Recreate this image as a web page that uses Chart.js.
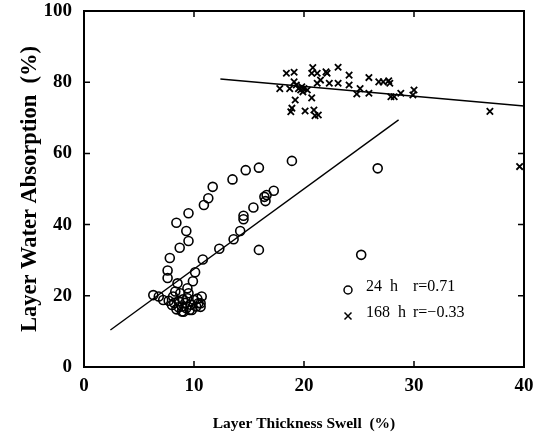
<!DOCTYPE html>
<html>
<head>
<meta charset="utf-8">
<script src="https://cdn.jsdelivr.net/npm/chart.js@4.4.1/dist/chart.umd.min.js"></script>
<style>
  html, body { margin: 0; padding: 0; background: #fff; }
  #wrap { width: 536px; height: 438px; }
</style>
</head>
<body>
<div id="wrap"><canvas id="chart" width="536" height="438"></canvas></div>
<script>
// 24 h samples (thickness swell %, water absorption %)
const swell24 = [14.7, 15.9, 18.9, 13.5, 11.7, 11.3, 10.9, 17.25, 16.6, 16.4, 16.5, 15.4, 26.7,
  9.5, 8.4, 9.3, 9.5, 8.7, 7.8, 7.6, 7.6, 8.5, 10.1, 9.9, 10.8, 12.3, 13.6, 14.2, 14.5, 14.5,
  15.9, 25.2, 9.4, 6.3, 6.8, 7.2, 10.7, 10.6, 9.8, 9.05, 8.4, 8.0, 8.75, 9.5, 8.1, 10.0, 10.4,
  10.6, 9.6, 8.6, 9.2, 8.9, 9.4, 7.7, 8.3, 8.9, 9.3, 10.2, 9.0, 8.2, 9.7, 10.3, 8.6];
const absorb24 = [55.3, 56.0, 57.9, 52.7, 50.6, 47.4, 45.5, 49.5, 48.3, 47.8, 46.6, 44.8, 55.8,
  43.2, 40.5, 38.2, 35.4, 33.5, 30.6, 27.1, 25.0, 23.5, 26.6, 24.1, 30.2, 33.2, 35.9, 38.2, 41.5, 42.5,
  32.9, 31.5, 22.1, 20.2, 19.8, 18.8, 19.8, 17.9, 16.0, 15.5, 16.2, 17.4, 20.7, 20.7, 19.8, 18.8, 17.9,
  16.9, 16.0, 18.5, 18.0, 17.0, 19.3, 18.6, 21.2, 15.6, 16.5, 17.0, 19.0, 18.0, 17.5, 19.2, 16.8];

// 168 h samples
const swell168 = [18.4, 19.1, 19.1, 17.8, 18.7, 20.8, 20.7, 21.2, 22.0, 22.1, 23.1, 24.1, 24.1,
  23.1, 22.3, 21.5, 21.2, 20.0, 19.7, 20.3, 20.7, 19.2, 18.9, 18.8, 20.1, 20.9, 21.0, 21.3,
  25.9, 26.8, 27.2, 27.7, 27.8, 25.1, 24.8, 25.9, 27.9, 28.2, 28.8, 30.0, 29.9, 36.9, 39.6,
  19.5, 19.8, 19.9, 19.3];
const absorb168 = [82.5, 82.8, 80.1, 78.2, 78.2, 84.1, 82.5, 82.5, 82.9, 82.5, 84.2, 82.0, 79.2,
  79.7, 79.7, 80.6, 79.7, 78.2, 77.8, 77.8, 75.6, 75.0, 72.7, 71.7, 71.9, 72.2, 70.6, 70.8,
  81.3, 80.1, 80.1, 80.4, 79.7, 78.2, 76.7, 76.9, 75.9, 75.9, 76.9, 77.8, 76.4, 71.8, 56.3,
  78.2, 78.7, 77.3, 79.2];

// regression lines (end points)
const fit24X = [2.4, 28.6];
const fit24Y = [10.4, 69.4];
const fit168X = [12.4, 40.0];
const fit168Y = [80.9, 73.3];

const xTicks = [0, 10, 20, 30, 40];
const yTicks = [0, 20, 40, 60, 80, 100];

const legendRows = [
  { style: 'circle', label: '24  h', r: 'r=0.71' },
  { style: 'crossRot', label: '168  h', r: 'r=\u22120.33' }
];

const toPts = (xs, ys) => xs.map((x, i) => ({ x: x, y: ys[i] }));
const serif = '"Liberation Serif", "Times New Roman", serif';

const framePlugin = {
  id: 'frame',
  afterDraw(chart) {
    const ctx = chart.ctx;
    const a = chart.chartArea;
    const xs = chart.scales.x, ys = chart.scales.y;
    ctx.save();
    ctx.strokeStyle = '#000';
    ctx.lineWidth = 2;
    ctx.strokeRect(a.left, a.top, a.right - a.left, a.bottom - a.top);
    ctx.lineWidth = 1.5;
    ctx.beginPath();
    xTicks.slice(1, -1).forEach(v => {
      const px = xs.getPixelForValue(v);
      ctx.moveTo(px, a.bottom); ctx.lineTo(px, a.bottom - 6);
      ctx.moveTo(px, a.top); ctx.lineTo(px, a.top + 6);
    });
    yTicks.slice(1, -1).forEach(v => {
      const py = ys.getPixelForValue(v);
      ctx.moveTo(a.left, py); ctx.lineTo(a.left + 6, py);
      ctx.moveTo(a.right, py); ctx.lineTo(a.right - 6, py);
    });
    ctx.stroke();

    // legend inside the plot
    const lx = a.left + 264, ly = a.top + 279;
    ctx.font = '16px ' + serif;
    ctx.fillStyle = '#000';
    ctx.textBaseline = 'middle';
    legendRows.forEach((row, i) => {
      const y = ly + i * 26;
      ctx.lineWidth = 1.5;
      ctx.beginPath();
      if (row.style === 'circle') {
        ctx.arc(lx, y, 4, 0, Math.PI * 2);
      } else {
        ctx.moveTo(lx - 3.5, y - 3.5); ctx.lineTo(lx + 3.5, y + 3.5);
        ctx.moveTo(lx + 3.5, y - 3.5); ctx.lineTo(lx - 3.5, y + 3.5);
      }
      ctx.stroke();
      ctx.fillText(row.label, lx + 18, y - 3);
      ctx.fillText(row.r, lx + 65, y - 3);
    });
    ctx.restore();
  }
};

new Chart(document.getElementById('chart'), {
  type: 'scatter',
  data: {
    datasets: [
      {
        label: '24 h',
        data: toPts(swell24, absorb24),
        pointStyle: 'circle',
        pointRadius: 4.5,
        borderColor: '#000',
        backgroundColor: 'rgba(255,255,255,0)',
        borderWidth: 1.6
      },
      {
        label: '168 h',
        data: toPts(swell168, absorb168),
        pointStyle: 'crossRot',
        pointRadius: 4.5,
        borderColor: '#000',
        borderWidth: 1.8
      },
      {
        label: 'fit 24 h',
        data: toPts(fit24X, fit24Y),
        showLine: true,
        pointRadius: 0,
        borderColor: '#000',
        borderWidth: 1.4
      },
      {
        label: 'fit 168 h',
        data: toPts(fit168X, fit168Y),
        showLine: true,
        pointRadius: 0,
        borderColor: '#000',
        borderWidth: 1.4
      }
    ]
  },
  options: {
    responsive: false,
    animation: false,
    devicePixelRatio: 1,
    layout: { padding: 0 },
    plugins: {
      legend: { display: false },
      tooltip: { enabled: false }
    },
    scales: {
      x: {
        type: 'linear',
        min: 0, max: 40,
        grid: { display: false, drawTicks: false, tickLength: 0 },
        border: { display: false },
        afterBuildTicks: s => { s.ticks = xTicks.map(v => ({ value: v })); },
        ticks: {
          color: '#000',
          padding: 8,
          font: { family: serif, size: 19, weight: 'bold' }
        },
        title: {
          display: true,
          text: 'Layer Thickness Swell  (%)',
          color: '#000',
          padding: { top: 8, bottom: 5 },
          font: { family: serif, size: 15.5, weight: 'bold' }
        },
        afterFit: s => { s.height = 71; s.paddingLeft = 0; s.paddingRight = 12; }
      },
      y: {
        type: 'linear',
        min: 0, max: 100,
        grid: { display: false, drawTicks: false, tickLength: 0 },
        border: { display: false },
        afterBuildTicks: s => { s.ticks = yTicks.map(v => ({ value: v })); },
        ticks: {
          color: '#000',
          padding: 12,
          font: { family: serif, size: 19, weight: 'bold' }
        },
        title: {
          display: true,
          text: 'Layer Water Absorption  (%)',
          color: '#000',
          padding: { top: 17, bottom: 0 },
          font: { family: serif, size: 22.5, weight: 'bold' }
        },
        afterFit: s => { s.width = 84; s.paddingTop = 11; s.paddingBottom = 0; }
      }
    }
  },
  plugins: [framePlugin]
});
</script>
</body>
</html>
